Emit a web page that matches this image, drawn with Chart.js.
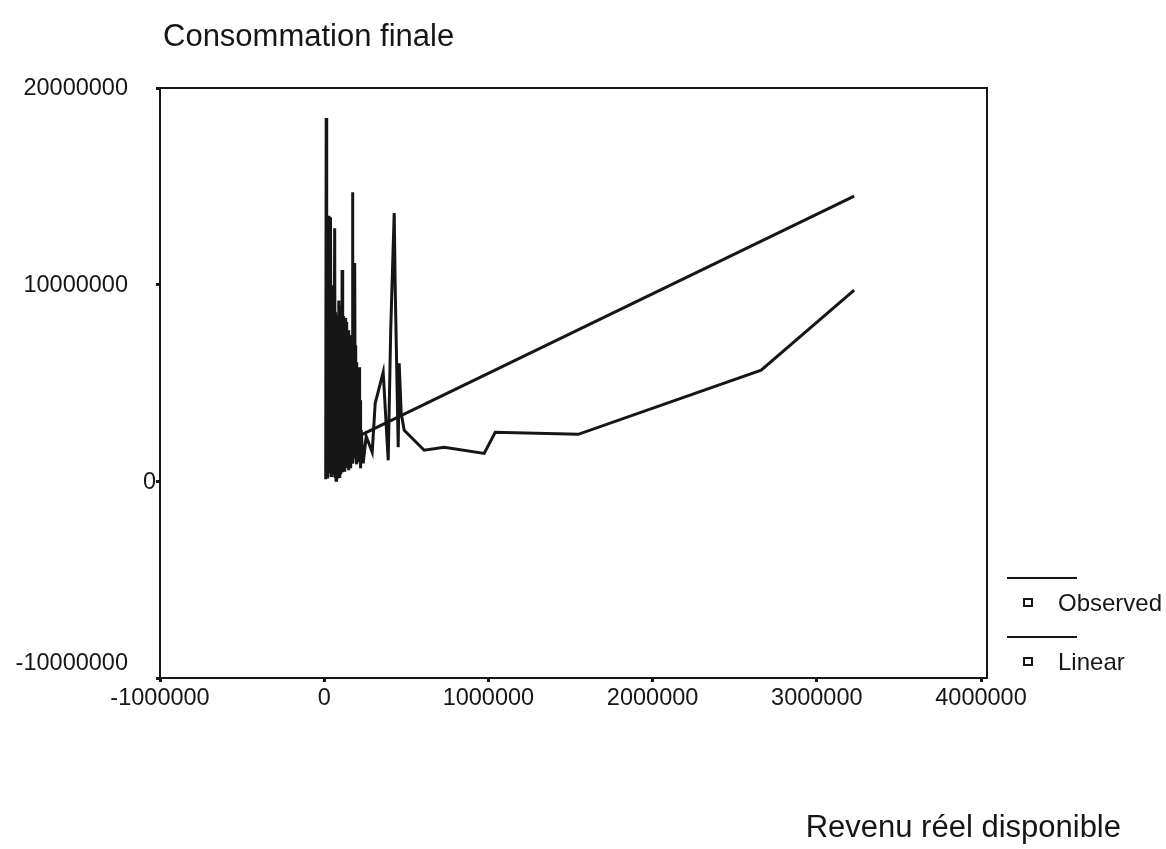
<!DOCTYPE html>
<html>
<head>
<meta charset="utf-8">
<title>Consommation finale / Revenu réel disponible</title>
<script src="https://cdn.jsdelivr.net/npm/chart.js@4.4.1/dist/chart.umd.min.js"></script>
<style>
  html, body { margin: 0; padding: 0; background: #ffffff; }
  #wrap { width: 1166px; height: 849px; position: relative; }
  canvas { display: block; }
</style>
</head>
<body>
<div id="wrap"><canvas id="chart" width="1166" height="849"></canvas></div>
<script>
// Observed: revenu réel disponible (x) vs consommation finale (y), sorted by income
const observedX = [
  9100, 12200, 15200, 18300, 21300, 24400, 27400, 30400, 34700, 38400,
  42600, 46900, 50500, 54800, 58500, 63900,
  67000, 69500, 71900, 74300, 76700, 79200, 81600, 84000, 86500, 88900,
  91400, 93800, 96200, 98700, 101100, 103500, 106000, 109000, 111400, 113900,
  116300, 118800, 121200, 123600, 126100, 128500, 130900, 133400, 135800, 138300,
  140700, 143100, 145600, 148000, 150400, 152900, 155300, 157800, 160200, 162600,
  165000, 167500, 169900, 172300, 174800, 177200, 179700, 182100, 184500, 187000,
  189400, 191800, 194300, 196700, 199100, 201600, 204000, 206400, 209500, 212500,
  215600, 218600, 221700, 225300,
  237500, 255800, 292300, 310600, 359300, 389800, 405000, 426300, 432400, 450700,
  456700, 468900, 487200, 609000, 730800, 974400, 1041400, 1546900, 2661300, 3227700
];
const observedY = [
  100000, 18470000, 200000, 13500000, 150000, 13500000, 400000, 13450000, 500000, 13400000,
  300000, 9970000, 350000, 9870000, 400000, 12870000,
  250000, 8600000, 50000, 8400000, 360000, 8300000, 150000, 8450000, 460000, 9200000,
  250000, 8950000, 560000, 8600000, 360000, 8800000, 660000, 10740000, 460000, 8300000,
  760000, 8400000, 560000, 8200000, 970000, 8300000, 660000, 8100000, 1170000, 7940000,
  760000, 7530000, 1480000, 7680000, 560000, 7380000, 1070000, 7430000, 660000, 7280000,
  1270000, 7180000, 970000, 14700000, 1580000, 7680000, 1170000, 11100000, 1320000, 11000000,
  1680000, 6920000, 1070000, 6060000, 870000, 5550000, 1780000, 5140000, 970000, 5800000,
  1480000, 4120000, 660000, 2600000,
  920000, 2290000, 1480000, 3970000, 5550000, 1070000, 7680000, 13640000, 9870000, 1730000,
  6000000, 3460000, 2600000, 1580000, 1730000, 1420000, 2490000, 2390000, 5650000, 9720000
];

// Linear fit line, end points
const linearX = [9100, 3227700];
const linearY = [1490000, 14500000];

// Axis ticks
const xTicks = [-1000000, 0, 1000000, 2000000, 3000000, 4000000];
const yTicks = [-10000000, 0, 10000000, 20000000];

const seriesNames = ['Observed', 'Linear'];
const yTitle = 'Consommation finale';
const xTitle = 'Revenu réel disponible';

const INK = '#161616';
const FONT = 'Liberation Sans, Arial, Helvetica, sans-serif';

const toPoints = (xs, ys) => xs.map((x, i) => ({ x: x, y: ys[i] }));

// Frame, y labels, titles and legend drawn on the canvas
const decorations = {
  id: 'decorations',
  afterDraw(chart) {
    const ctx = chart.ctx;
    const a = chart.chartArea;
    const ys = chart.scales.y;
    ctx.save();

    // top and right sides of the plot frame
    ctx.strokeStyle = INK;
    ctx.lineWidth = 2;
    ctx.beginPath();
    ctx.moveTo(a.left, a.top);
    ctx.lineTo(a.right, a.top);
    ctx.lineTo(a.right, a.bottom);
    ctx.stroke();

    // y tick labels
    ctx.fillStyle = INK;
    ctx.font = '23.5px ' + FONT;
    ctx.textAlign = 'right';
    ctx.textBaseline = 'middle';
    yTicks.forEach(v => {
      let py = ys.getPixelForValue(v);
      py = Math.min(py, a.bottom - 15);
      const px = v === 0 ? a.left - 4 : a.left - 32;
      ctx.fillText(String(v), px, py + 1);
    });

    // titles
    ctx.font = '31px ' + FONT;
    ctx.textAlign = 'left';
    ctx.fillText(yTitle, 163, 37);
    ctx.textAlign = 'right';
    ctx.fillText(xTitle, 1121, 828);

    // legend
    ctx.font = '24px ' + FONT;
    ctx.textAlign = 'left';
    chart.data.datasets.forEach((ds, i) => {
      const top = 578 + i * 59;
      ctx.strokeStyle = INK;
      ctx.lineWidth = 2;
      ctx.beginPath();
      ctx.moveTo(1007, top);
      ctx.lineTo(1077, top);
      ctx.stroke();
      ctx.lineWidth = 2;
      ctx.strokeRect(1024, top + 21, 8, 7);
      ctx.fillText(ds.label, 1058, top + 26);
    });

    ctx.restore();
  }
};

const bg = {
  id: 'bg',
  beforeDraw(chart) {
    const ctx = chart.ctx;
    ctx.save();
    ctx.fillStyle = '#ffffff';
    ctx.fillRect(0, 0, chart.width, chart.height);
    ctx.restore();
  }
};

new Chart(document.getElementById('chart'), {
  type: 'scatter',
  data: {
    datasets: [
      {
        label: seriesNames[0],
        data: toPoints(observedX, observedY),
        showLine: true,
        borderColor: INK,
        borderWidth: 3,
        pointRadius: 0,
        tension: 0
      },
      {
        label: seriesNames[1],
        data: toPoints(linearX, linearY),
        showLine: true,
        borderColor: INK,
        borderWidth: 3,
        pointRadius: 0,
        tension: 0
      }
    ]
  },
  options: {
    responsive: false,
    animation: false,
    layout: { padding: { left: 0, top: 88, right: 179, bottom: 0 } },
    plugins: {
      legend: { display: false },
      tooltip: { enabled: false },
      title: { display: false }
    },
    scales: {
      x: {
        type: 'linear',
        min: -1000000,
        max: 4036500,
        afterBuildTicks: s => { s.ticks = xTicks.map(v => ({ value: v })); },
        afterFit: s => { s.height = 171; },
        grid: {
          drawOnChartArea: false,
          drawTicks: true,
          tickLength: 4,
          tickWidth: 3,
          tickColor: INK
        },
        border: { display: true, color: INK, width: 2 },
        ticks: {
          color: INK,
          font: { family: FONT, size: 23.5 },
          padding: 2,
          maxRotation: 0,
          autoSkip: false,
          callback: v => String(v)
        }
      },
      y: {
        type: 'linear',
        min: -10000000,
        max: 20000000,
        afterBuildTicks: s => { s.ticks = yTicks.map(v => ({ value: v })); },
        afterFit: s => { s.width = 160; },
        grid: {
          drawOnChartArea: false,
          drawTicks: true,
          tickLength: 4,
          tickWidth: 3,
          tickColor: INK
        },
        border: { display: true, color: INK, width: 2 },
        ticks: { display: false }
      }
    }
  },
  plugins: [bg, decorations]
});
</script>
</body>
</html>
